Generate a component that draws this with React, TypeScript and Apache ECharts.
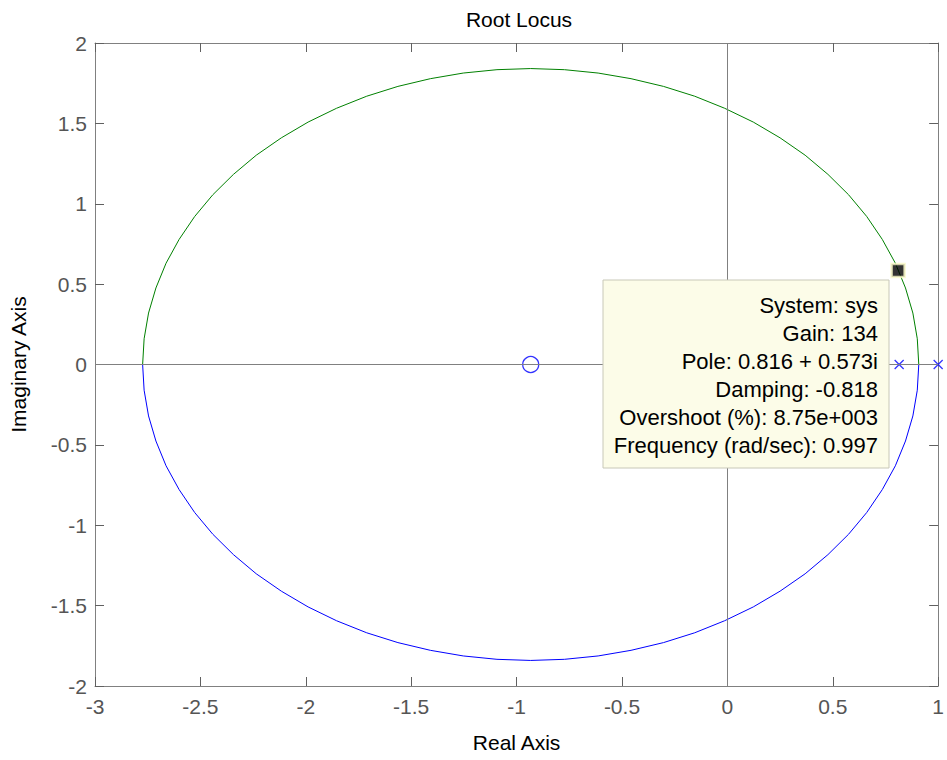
import React, { useEffect, useRef } from "react";
import * as echarts from "echarts";

// Root locus branches (real / imaginary parts)
const upperRe = [-2.774, -2.767, -2.746, -2.711, -2.663, -2.601, -2.527, -2.441, -2.343, -2.235, -2.116, -1.989, -1.854, -1.711, -1.563, -1.409, -1.253, -1.093, -0.933, -0.773, -0.613, -0.457, -0.303, -0.155, -0.013, 0.123, 0.25, 0.369, 0.477, 0.575, 0.661, 0.735, 0.797, 0.845, 0.88, 0.901, 0.908];
const upperIm = [0, 0.16, 0.32, 0.476, 0.63, 0.778, 0.921, 1.056, 1.183, 1.302, 1.41, 1.508, 1.594, 1.669, 1.73, 1.778, 1.813, 1.834, 1.841, 1.834, 1.813, 1.778, 1.73, 1.669, 1.594, 1.508, 1.41, 1.302, 1.183, 1.056, 0.921, 0.778, 0.63, 0.476, 0.32, 0.16, 0];
const lowerRe = [-2.774, -2.767, -2.746, -2.711, -2.663, -2.601, -2.527, -2.441, -2.343, -2.235, -2.116, -1.989, -1.854, -1.711, -1.563, -1.409, -1.253, -1.093, -0.933, -0.773, -0.613, -0.457, -0.303, -0.155, -0.013, 0.123, 0.25, 0.369, 0.477, 0.575, 0.661, 0.735, 0.797, 0.845, 0.88, 0.901, 0.908];
const lowerIm = [0, -0.16, -0.32, -0.476, -0.63, -0.778, -0.921, -1.056, -1.183, -1.302, -1.41, -1.508, -1.594, -1.669, -1.73, -1.778, -1.813, -1.834, -1.841, -1.834, -1.813, -1.778, -1.73, -1.669, -1.594, -1.508, -1.41, -1.302, -1.183, -1.056, -0.921, -0.778, -0.63, -0.476, -0.32, -0.16, 0];

const zerosRe = [-0.933];
const zerosIm = [0];
const polesRe = [0.815, 1.0];
const polesIm = [0, 0];

const tipRe = 0.81;
const tipIm = 0.585;
const tipLines = [
  "System: sys",
  "Gain: 134",
  "Pole: 0.816 + 0.573i",
  "Damping: -0.818",
  "Overshoot (%): 8.75e+003",
  "Frequency (rad/sec): 0.997",
];

const FONT = "'Liberation Sans', Arial, Helvetica, sans-serif";
const AX = "#808080";
const LBL = "#555555";

export default function App() {
  const ref = useRef<HTMLDivElement>(null);
  useEffect(() => {
    if (!ref.current) return;
    const chart = echarts.init(ref.current, undefined, { renderer: "svg" });
    const zip = (a: number[], b: number[]) => a.map((v, i) => [v, b[i]]);
    const baseX = {
      type: "value" as const,
      min: -3,
      max: 1,
      interval: 0.5,
      splitLine: { show: false },
      axisLine: { show: true, onZero: false, lineStyle: { color: AX, width: 1 } },
      axisTick: { show: true, inside: true, length: 9, lineStyle: { color: "#606060", width: 1 } },
    };
    const baseY = {
      type: "value" as const,
      min: -2,
      max: 2,
      interval: 0.5,
      splitLine: { show: false },
      axisLine: { show: true, onZero: false, lineStyle: { color: AX, width: 1 } },
      axisTick: { show: true, inside: true, length: 9, lineStyle: { color: "#606060", width: 1 } },
    };
    const tipTop = 280;
    const tipLeft = 603;
    const tipW = 286;
    const tipH = 188;
    chart.setOption({
      animation: false,
      backgroundColor: "#ffffff",
      title: {
        text: "Root Locus",
        left: 514,
        textAlign: "center",
        top: 4,
        textStyle: { fontFamily: FONT, fontSize: 21, fontWeight: "normal", color: "#000" },
      },
      grid: { left: 95, right: 7, top: 43, bottom: 74, containLabel: false },
      xAxis: [
        {
          ...baseX,
          position: "bottom",
          name: "Real Axis",
          nameLocation: "middle",
          nameGap: 46,
          nameTextStyle: { fontFamily: FONT, fontSize: 21, color: "#000" },
          axisLabel: { fontFamily: FONT, fontSize: 21, color: LBL, margin: 10 },
        },
        { ...baseX, position: "top", axisLabel: { show: false } },
      ],
      yAxis: [
        {
          ...baseY,
          position: "left",
          name: "Imaginary Axis",
          nameLocation: "middle",
          nameGap: 66,
          nameTextStyle: { fontFamily: FONT, fontSize: 21, color: "#000" },
          axisLabel: { fontFamily: FONT, fontSize: 21, color: LBL, margin: 8 },
        },
        { ...baseY, position: "right", axisLabel: { show: false } },
      ],
      series: [
        {
          type: "line",
          data: [],
          markLine: {
            silent: true,
            symbol: "none",
            label: { show: false },
            lineStyle: { color: AX, type: "solid", width: 1 },
            data: [{ xAxis: 0 }, { yAxis: 0 }],
          },
          z: 1,
        },
        {
          type: "line",
          data: zip(upperRe, upperIm),
          showSymbol: false,
          lineStyle: { color: "#008000", width: 1 },
          z: 3,
        },
        {
          type: "line",
          data: zip(lowerRe, lowerIm),
          showSymbol: false,
          lineStyle: { color: "#0000ff", width: 1 },
          z: 3,
        },
        {
          type: "scatter",
          data: zip(zerosRe, zerosIm),
          symbol: "circle",
          symbolSize: 16,
          itemStyle: { color: "rgba(255,255,255,0)", borderColor: "#0000ff", borderWidth: 1.3 },
          z: 4,
        },
        {
          type: "scatter",
          data: zip(polesRe, polesIm),
          symbol: "path://M0,0L10,10M10,0L0,10",
          symbolSize: 9,
          itemStyle: { color: "rgba(0,0,255,0)", borderColor: "#0000ff", borderWidth: 1.3 },
          z: 4,
        },
        {
          type: "scatter",
          data: [[tipRe, tipIm]],
          symbol: "rect",
          symbolSize: 13,
          itemStyle: { color: "#000000", borderColor: "#fafac8", borderWidth: 2.5 },
          z: 5,
        },
      ],
      graphic: [
        {
          type: "rect",
          z: 100,
          shape: { x: tipLeft, y: tipTop, width: tipW, height: tipH },
          style: { fill: "#fcfce8", stroke: "#c8c8b8", lineWidth: 1 },
        },
        ...tipLines.map((t, i) => ({
          type: "text",
          z: 101,
          x: tipLeft + tipW - 11,
          y: tipTop + 25 + i * 28,
          style: {
            text: t,
            fontFamily: FONT,
            fontSize: 22,
            fill: "#000",
            textAlign: "right",
            textVerticalAlign: "middle",
          },
        })),
      ],
    });
    return () => chart.dispose();
  }, []);
  return (
    <div
      ref={ref}
      style={{ position: "absolute", left: 0, top: 0, width: 947, height: 760 }}
    />
  );
}
